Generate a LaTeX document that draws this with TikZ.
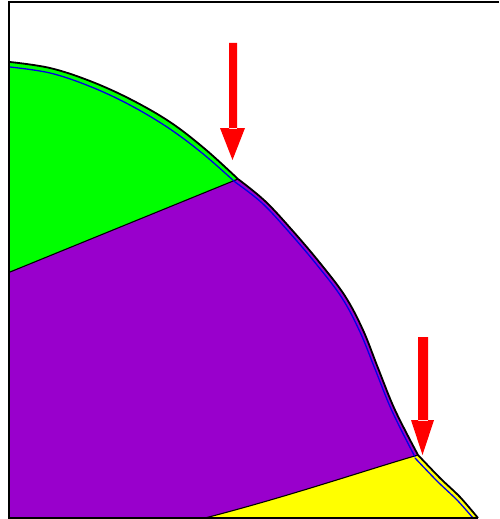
\documentclass[tikz,border=0pt]{standalone}
\begin{document}
\begin{tikzpicture}[x=1pt,y=-1pt,
  seam/.style={draw=black,line width=1.1pt},
  outer/.style={draw=black,line width=1.8pt},
  inner/.style={draw=blue!90!black,line width=1.3pt},
  redarrow/.style={fill=red,draw=none}]
\definecolor{gr}{RGB}{0,255,0}
\definecolor{pu}{RGB}{153,0,204}
\definecolor{ye}{RGB}{255,255,0}
\useasboundingbox (0,0) rectangle (499,519);
% coordinates
\coordinate (P0) at (10,62);
\coordinate (J1) at (238,179);
\coordinate (J2) at (418,455);
\coordinate (E) at (478,518);
\coordinate (GL) at (10,272);
\coordinate (YB) at (205,518);
% regions
\fill[gr] (GL) -- plot[smooth,tension=0.6] coordinates {(10,62) (50,68) (90,81) (130,99) (170,122) (205,149) (238,179)} -- cycle;
\fill[pu] (GL) -- plot[smooth,tension=0.6] coordinates {(238,179) (265,201) (292,230) (320,263) (345,296) (363,330) (378,368) (395,410) (418,455)} .. controls (360,472) and (290,496) .. (YB) -- (10,518) -- cycle;
\fill[ye] (YB) .. controls (290,496) and (360,472) .. (J2) -- plot[smooth] coordinates {(418,455) (440,478) (460,497) (478,518)} -- cycle;
% seams
\draw[seam] (GL) -- (J1);
\draw[seam] (YB) .. controls (290,496) and (360,472) .. (J2);
% inner blue lines
\draw[inner] plot[smooth,tension=0.6] coordinates {(10,67) (50,73) (89,86) (128,104) (167,127) (202,153) (235,182)};
\draw[inner] plot[smooth,tension=0.6] coordinates {(235,182) (262,203) (289,232) (317,265) (342,298) (360,332) (375,369) (392,411) (415,457)};
\draw[inner] plot[smooth] coordinates {(415,458) (437,481) (457,500) (473,518)};
% outer black line
\draw[outer] plot[smooth,tension=0.6] coordinates {(10,62) (50,68) (90,81) (130,99) (170,122) (205,149) (238,179)};
\draw[outer] plot[smooth,tension=0.6] coordinates {(238,179) (265,201) (292,230) (320,263) (345,296) (363,330) (378,368) (395,410) (418,455)};
\draw[outer] plot[smooth] coordinates {(418,455) (440,478) (460,497) (478,518)};
% frame
\draw[line width=2.6pt] (499,2) -- (9,2) -- (9,518) -- (E);
% arrows
\fill[redarrow] (229,43) rectangle (237,129) (220,128) -- (245,128) -- (232.5,160) -- cycle;
\fill[redarrow] (418,337) rectangle (428,421) (411,420) -- (434,420) -- (422.5,455) -- cycle;
\end{tikzpicture}
\end{document}
